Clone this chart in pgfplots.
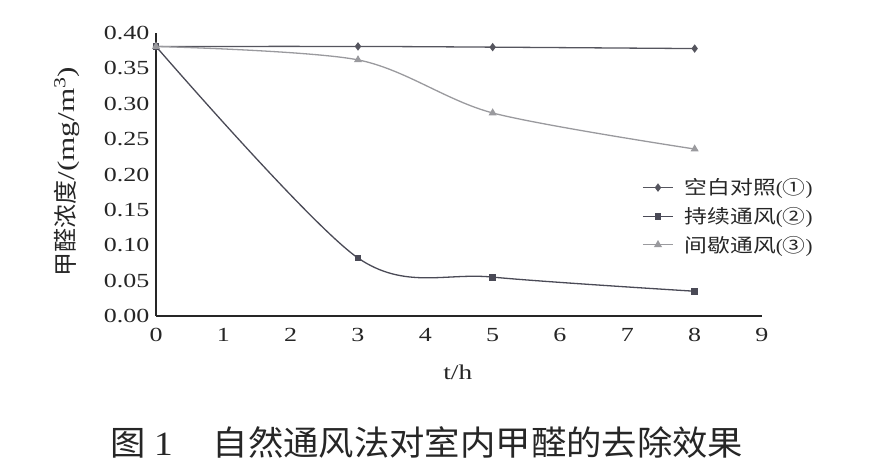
\documentclass[border=0pt]{standalone}
\usepackage{fontspec}
\setmainfont[FakeStretch=1.3]{Liberation Serif}
\newfontfamily\cjk[FakeStretch=1.2]{Noto Sans CJK SC}
\newfontfamily\cjkplain{Noto Sans CJK SC}
\newfontfamily\cjkcap[FakeStretch=1.04]{Noto Sans CJK SC}
\newfontfamily\capnum[FakeStretch=1.1]{Liberation Serif}
\newfontfamily\legnum[FakeStretch=1.1]{Liberation Serif}
\usepackage{pgfplots}
\pgfplotsset{compat=1.18}
\definecolor{cA}{HTML}{55555E}
\definecolor{cB}{HTML}{4A4A56}
\definecolor{cC}{HTML}{9A9A9E}
\begin{document}
\begin{tikzpicture}
\path[use as bounding box] (0,0) rectangle (876pt,466pt);
\begin{axis}[
  at={(156pt,150pt)}, anchor=south west,
  scale only axis, width=606pt, height=283pt,
  xmin=0, xmax=9, ymin=0, ymax=0.4,
  axis lines=left,
  axis line style={line width=1.6pt,-, black!85},
  xtick={0,1,2,3,4,5,6,7,8,9},
  ytick={0,0.05,0.10,0.15,0.20,0.25,0.30,0.35,0.40},
  yticklabel style={xshift=-3pt, /pgf/number format/.cd,fixed,fixed zerofill,precision=2},
  major tick length=0pt,
  /pgf/number format/assume math mode=true,
  tick label style={font=\fontsize{20}{24}\selectfont, text=black!85},
  xticklabel style={yshift=-9pt},
  xlabel={t/h},
  xlabel style={at={(axis description cs:0.498,-0.2)}, anchor=center, font=\fontsize{21}{24}\selectfont, text=black!85},
  ylabel={{\cjkplain 甲醛浓度}/(mg/m\textsuperscript{3})},
  ylabel style={at={(axis description cs:-0.147,0.51)}, anchor=center, font=\fontsize{24}{28}\selectfont, text=black!85},
  legend style={draw=none, fill=none, at={(axis cs:7.22,0.197)}, anchor=north west,
    font=\fontsize{19}{23}\selectfont, text=black!85, row sep=7pt, inner sep=0pt,
    /tikz/every node/.append style={inner xsep=5pt},
    /tikz/every odd column/.append style={column sep=6pt}},
  legend cell align=left,
  legend image code/.code={\draw[mark repeat=2,mark phase=2,#1] plot coordinates {(0pt,0pt) (15pt,0pt) (30pt,0pt)};},
]
\addplot[smooth, color=cA, line width=1.3pt, mark=diamond*, mark size=3.2pt, mark options={fill=cA}]
  coordinates {(0,0.381) (3,0.381) (5,0.380) (8,0.378)};
\addlegendentry{{\cjk 空白对照}{\legnum (}{\cjk ①}{\legnum )}}
\addplot[smooth, color=cB, line width=1.3pt, mark=square*, mark size=2.8pt, mark options={fill=cB}]
  coordinates {(0,0.381) (3,0.082) (5,0.055) (8,0.035)};
\addlegendentry{{\cjk 持续通风}{\legnum (}{\cjk ②}{\legnum )}}
\addplot[smooth, color=cC, line width=1.3pt, mark=triangle*, mark size=3.4pt, mark options={fill=cC}]
  coordinates {(0,0.381) (3,0.362) (5,0.287) (8,0.236)};
\addlegendentry{{\cjk 间歇通风}{\legnum (}{\cjk ③}{\legnum )}}
\end{axis}
\node[anchor=center, text=black!85] at (427pt,24pt)
  {{\cjkcap\fontsize{34}{36}\selectfont 图}\hspace{8pt}{\capnum\fontsize{34}{36}\selectfont 1}\hspace{40pt}{\cjkcap\fontsize{34}{36}\selectfont 自然通风法对室内甲醛的去除效果}};
\end{tikzpicture}
\end{document}
